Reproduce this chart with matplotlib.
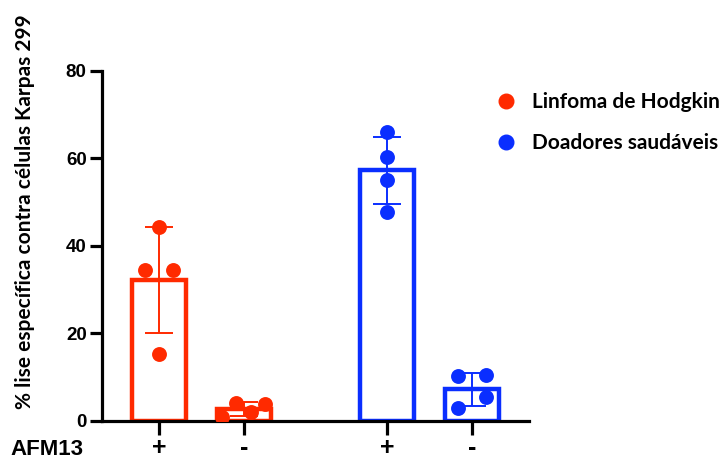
import numpy as np
import matplotlib.pyplot as plt

# data (4 donors per group)
groups = ["Linfoma de Hodgkin", "Linfoma de Hodgkin", "Doadores saudáveis", "Doadores saudáveis"]
afm13 = ["+", "-", "+", "-"]
hl_plus = [44.3, 34.5, 34.5, 15.4]
hl_minus = [4.2, 1.0, 2.0, 3.8]
hd_plus = [65.9, 60.2, 55.1, 47.8]
hd_minus = [10.2, 10.4, 5.4, 2.9]
values = [hl_plus, hl_minus, hd_plus, hd_minus]

# horizontal jitter of the dots inside each bar
jitter = [[0, -0.165, 0.165, 0],
          [-0.09, -0.26, 0.08, 0.25],
          [0, 0, 0, 0],
          [-0.16, 0.16, 0.16, -0.16]]

red = "#FF2A00"
blue = "#0A2EFF"
colors = [red, red, blue, blue]
xpos = [0, 1, 2.68, 3.68]

fig = plt.figure(figsize=(7.24, 4.61), dpi=100)
ax = fig.add_axes([0.1409, 0.0868, 0.5898, 0.7598])

for x, vals, off, c in zip(xpos, values, jitter, colors):
    vals = np.array(vals)
    m = vals.mean()
    sd = vals.std(ddof=1)
    ax.bar(x, m, width=0.635, facecolor="white", edgecolor=c, linewidth=3.2, zorder=2)
    ax.errorbar(x, m, yerr=sd, color=c, lw=1.4, capsize=10, capthick=1.4, zorder=3)
    ax.scatter(x + np.array(off), vals, s=115, color=c, zorder=4, linewidths=0)

ax.set_xlim(-0.67, 4.35)
ax.set_ylim(0, 80)
ax.set_yticks([0, 20, 40, 60, 80])
ax.set_xticks(xpos)
ax.set_xticklabels(afm13)
for s in ["top", "right"]:
    ax.spines[s].set_visible(False)
for s in ["left", "bottom"]:
    ax.spines[s].set_linewidth(2.3)
ax.tick_params(axis="y", length=9, width=2.3, labelsize=13.5, pad=2)
ax.tick_params(axis="x", length=10, width=2.3, labelsize=18, pad=1)
for lab in ax.get_yticklabels() + ax.get_xticklabels():
    lab.set_fontweight("bold")
    lab.set_family("Liberation Sans")

ax.set_ylabel("% lise específica contra células Karpas 299", fontsize=15,
              fontweight="bold", family="Lato")
ax.yaxis.set_label_coords(-0.158, 0.597)

fig.text(10 / 724, 0.014, "AFM13", fontsize=16, fontweight="bold", family="Liberation Sans",
         ha="left", va="baseline")

# legend
legend_labels = ["Linfoma de Hodgkin", "Doadores saudáveis"]
legend_colors = [red, blue]
handles = [plt.Line2D([], [], marker="o", ls="", color=c, markersize=10.5) for c in legend_colors]
fig.legend(handles, legend_labels, loc="upper left", bbox_to_anchor=(0.684, 0.80),
           frameon=False, prop={"family": "Lato", "weight": "bold", "size": 15},
           handlelength=1.0, handletextpad=0.77, labelspacing=1.0,
           borderpad=0, borderaxespad=0)

fig.savefig("out.png", dpi=100)
